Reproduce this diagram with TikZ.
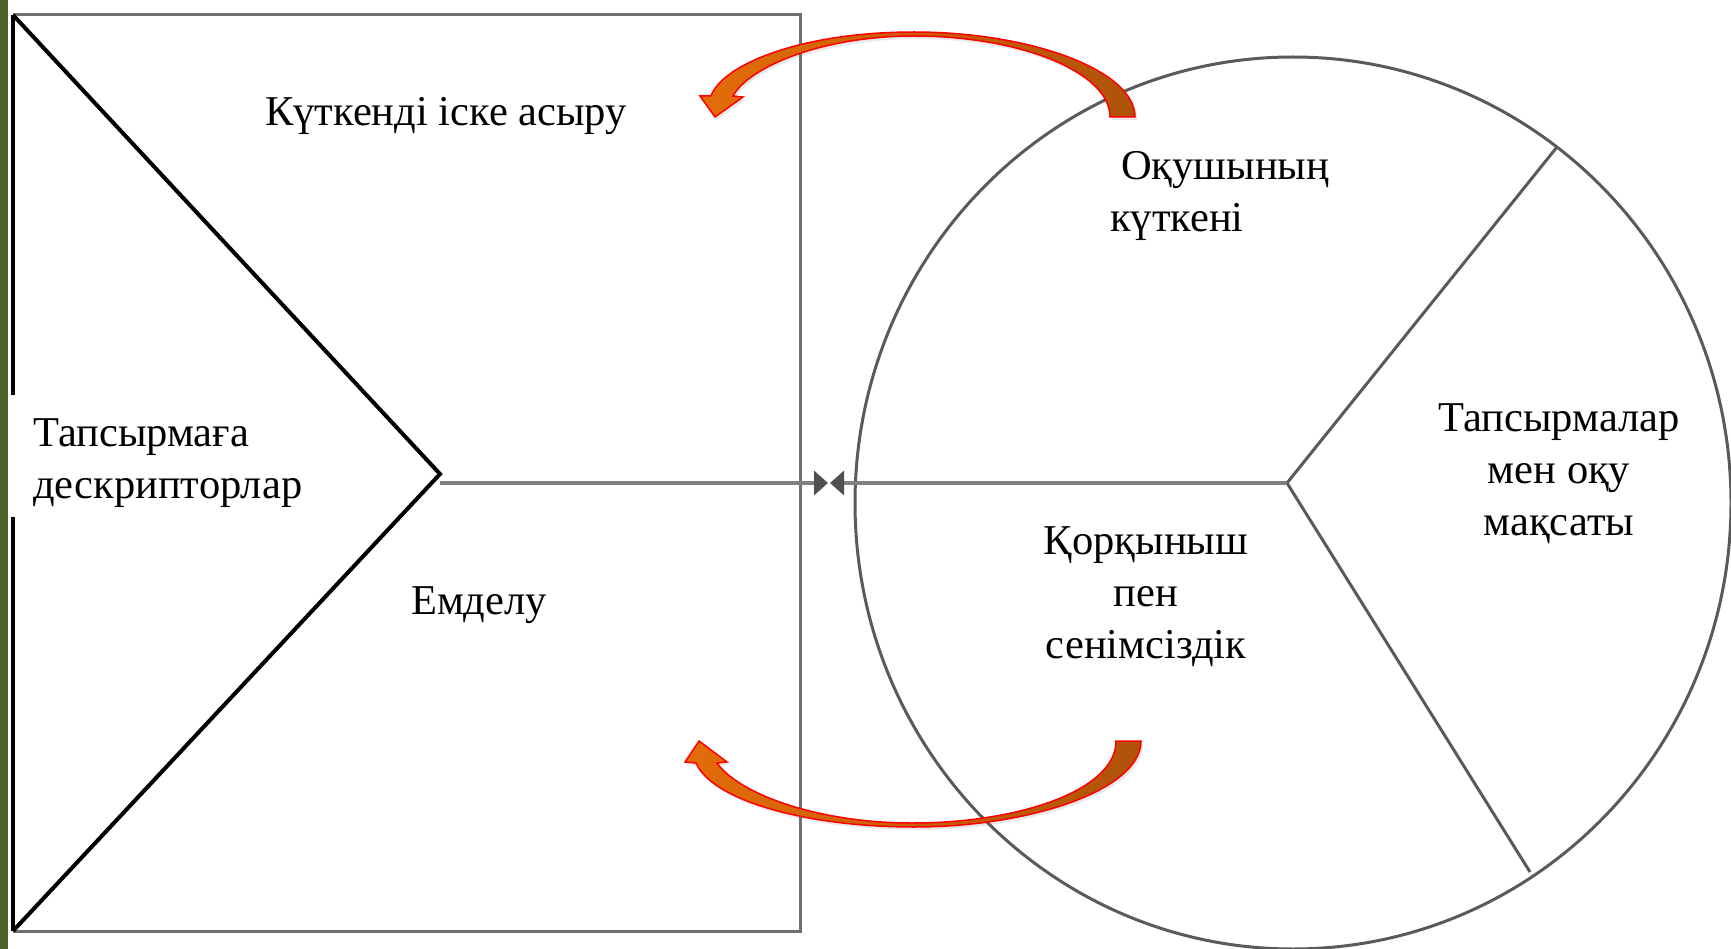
\documentclass[tikz,border=0pt]{standalone}
\usepackage{fontspec}
\setmainfont{Liberation Serif}
\usetikzlibrary{arrows.meta,shadows}
\definecolor{barGreen}{HTML}{4F6228}
\definecolor{frameGray}{HTML}{707070}
\definecolor{ringGray}{HTML}{5A5A5A}
\definecolor{axisGray}{HTML}{808080}
\definecolor{tipGray}{HTML}{505050}
\definecolor{arrowLight}{HTML}{E46C0A}
\definecolor{arrowDark}{HTML}{B0520A}

\begin{document}
\begin{tikzpicture}[x=1pt,y=-1pt,
  lbl/.style={font=\fontsize{42.5}{52}\selectfont,inner sep=0pt},
  axis/.style={axisGray,line width=4pt,-{Triangle[length=14pt,width=24pt,color=tipGray]}},
  swoop/.style={draw=red,line width=1.5pt,left color=arrowLight,right color=arrowDark,
    drop shadow={opacity=0.18,shadow xshift=2pt,shadow yshift=-3pt}}]
  \useasboundingbox (0,0) rectangle (1731,949);
  \fill[white] (0,0) rectangle (1731,949);
  \fill[barGreen] (0,0) rectangle (8,949);
  % frame, circle and spokes
  \draw[frameGray,line width=3pt] (13,15) -- (800,15) -- (800,931) -- (13,931);
  \draw[ringGray,line width=3pt] (1293,503) ellipse (438 and 446);
  \coordinate (tip) at (440,474);
  \coordinate (hub) at (1287,483);
  \coordinate (meetL) at (828,483);
  \coordinate (meetR) at (830,483);
  \draw[ringGray,line width=3pt] (1557,147) -- (hub) -- (1530,872);
  % chevron
  \draw[black,line width=4pt] (13,15) -- (13,931);
  \draw[black,line width=4pt,line join=miter] (13,15) -- (tip) -- (13,931);
  \fill[white] (9,395) rectangle (18,517);
  % meeting arrows
  \draw[axis] (tip |- hub) -- (meetL);
  \draw[axis] (hub) -- (meetR);
  % curved arrows
  \path[swoop] (1135,117) .. controls (1135,70) and (1030,32) .. (914,32)
    .. controls (800,32) and (722,65) .. (711,96) -- (700,96) -- (715,117) -- (743,97) -- (733,96)
    .. controls (748,68) and (820,36) .. (914,36)
    .. controls (1020,36) and (1110,72) .. (1110,117) -- cycle;
  \path[swoop] (1141,741) .. controls (1141,790) and (1030,827) .. (914,827)
    .. controls (805,827) and (712,800) .. (696,763) -- (685,762) -- (699,741) -- (727,762) -- (717,763)
    .. controls (740,795) and (820,823) .. (912,823)
    .. controls (1020,823) and (1116,790) .. (1116,741) -- cycle;
  % labels
  \node[lbl,anchor=base] (realise) at (446,126) {Күткенді іске асыру};
  \node[lbl,anchor=base west,align=left] (descr) at (33,498) {Тапсырмаға\\дескрипторлар};
  \node[lbl,anchor=base] (heal) at (479,614) {Емделу};
  \node[lbl,anchor=base west,align=left] (expect) at (1110,232) {\hspace*{11pt}Оқушының\\күткені};
  \node[lbl,anchor=base,align=center] (fear) at (1146,658) {Қорқыныш\\пен\\сенімсіздік};
  \node[lbl,anchor=base,align=center] (goal) at (1559,535) {Тапсырмалар\\мен оқу\\мақсаты};
\end{tikzpicture}
\end{document}
